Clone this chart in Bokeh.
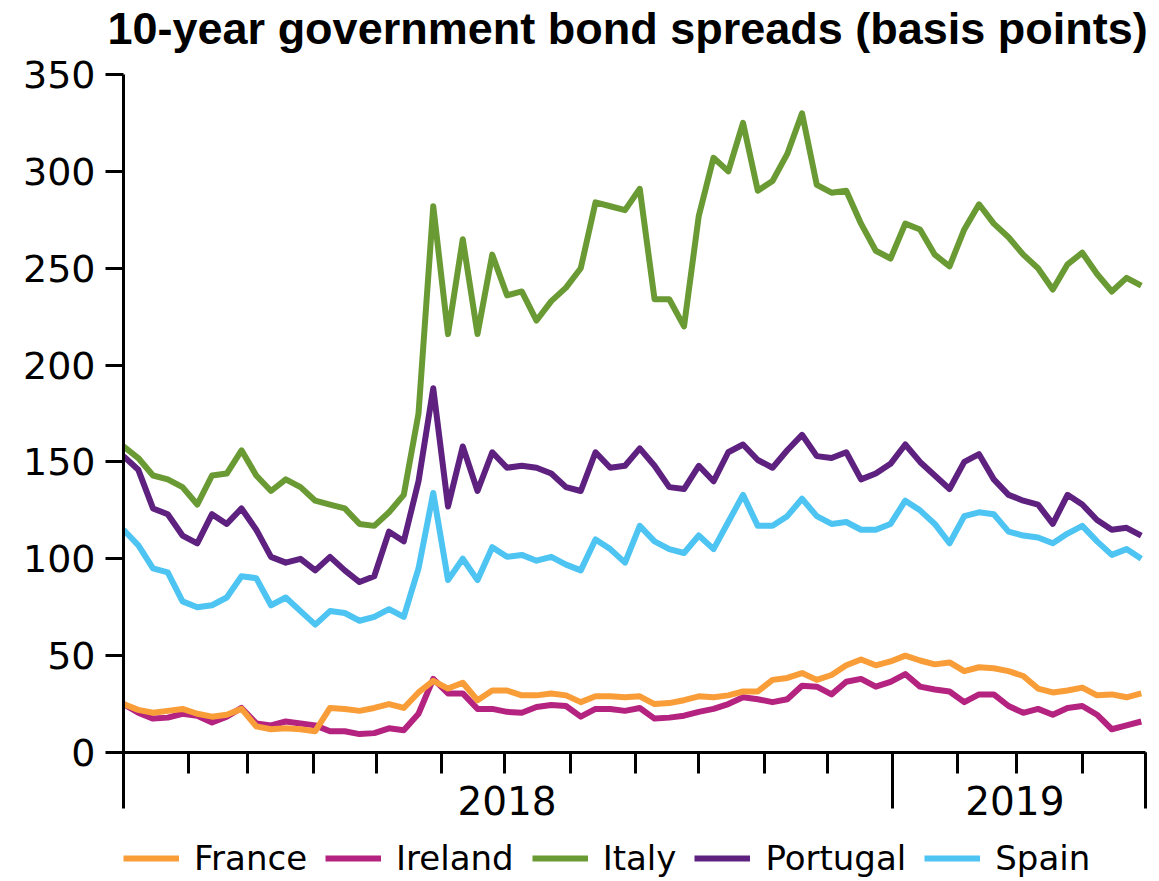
import datetime as dt
import pandas as pd
from bokeh.plotting import figure
from bokeh.layouts import column
from bokeh.models import (ColumnDataSource, FixedTicker, Range1d, Legend,
                          LegendItem, CustomJSTickFormatter, DatetimeAxis)
from bokeh.embed import file_html
from bokeh.resources import INLINE

# ---------------- data (weekly observations, basis points) ----------------
dates = pd.date_range("2018-01-01", periods=70, freq="7D")

france = [25, 22, 20.5, 21.5, 22.5, 20, 18.5, 19.5, 22.5, 13.5,
          12, 12.5, 12, 11, 23, 22.5, 21.5, 23, 25, 23,
          31, 37, 33, 36, 27, 32, 32, 29.5, 29.5, 30.5,
          29.5, 26, 29, 29, 28.5, 29, 25, 25.5, 27, 29,
          28.5, 29.5, 31.5, 31.5, 37.5, 38.5, 41, 37.5, 40, 45,
          48, 45, 47, 50, 47.5, 45.5, 46.5, 42, 44, 43.5,
          42, 39.5, 33, 31, 32, 33.5, 29.5, 30, 28.5, 30.5]

ireland = [25, 20.5, 17.5, 18, 20, 19, 15.5, 18.5, 23, 15,
           14, 16, 15, 14, 11, 11, 9.5, 10, 12.5, 11.5,
           20, 38, 30.5, 30.5, 22.5, 22.5, 21, 20.5, 23.5, 24.5,
           24, 18.5, 22.5, 22.5, 21.5, 23, 17.5, 18, 19, 21,
           22.5, 25, 28.5, 27.5, 26, 27.5, 34.5, 34, 30, 36.5,
           38, 34, 36.5, 40.5, 34, 32.5, 31.5, 26, 30, 30,
           24, 20.5, 22.5, 19.5, 23, 24, 19.5, 12, 14, 16]

italy = [158, 152, 143, 141, 137, 128, 143, 144, 156, 143,
         135, 141, 137, 130, 128, 126, 118, 117, 124, 133,
         175, 282, 216, 265, 216, 257, 236, 238, 223, 233,
         240, 250, 284, 282, 280, 291, 234, 234, 220, 277,
         307, 300, 325, 290, 295, 309, 330, 293, 289, 290,
         273, 259, 255, 273, 270, 257, 251, 270, 283, 273,
         266, 257, 250, 239, 252, 258, 247, 238, 245, 241]

portugal = [153, 146, 126, 123, 112, 108, 123, 118, 126, 115,
            101, 98, 100, 94, 101, 94, 88, 91, 114, 109,
            140, 188, 127, 158, 135, 155, 147, 148, 147, 144,
            137, 135, 155, 147, 148, 157, 148, 137, 136, 148,
            140, 155, 159, 151, 147, 156, 164, 153, 152, 155,
            141, 144, 149, 159, 150, 143, 136, 150, 154, 141,
            133, 130, 128, 118, 133, 128, 120, 115, 116, 112]

spain = [115, 107, 95, 93, 78, 75, 76, 80, 91, 90,
         76, 80, 73, 66, 73, 72, 68, 70, 74, 70,
         95, 134, 89, 100, 89, 106, 101, 102, 99, 101,
         97, 94, 110, 105, 98, 117, 109, 105, 103, 112,
         105, 119, 133, 117, 117, 122, 131, 122, 118, 119,
         115, 115, 118, 130, 125, 118, 108, 122, 124, 123,
         114, 112, 111, 108, 113, 117, 109, 102, 105, 100]

series_names = ["France", "Ireland", "Italy", "Portugal", "Spain"]
series_colors = ["#F99D38", "#B4237F", "#6A9A34", "#5E2180", "#4DC4F2"]
y_ticks = [0, 50, 100, 150, 200, 250, 300, 350]
year_labels = ["2018", "2019"]
title_text = "10-year government bond spreads (basis points)"

TICK_FONT = "DejaVu Sans"


def ms(d):
    return pd.Timestamp(d).value / 1e6


def strip(height):
    f = figure(width=1159, height=height, output_backend="svg", toolbar_location=None,
               min_border_left=123, min_border_right=14,
               min_border_top=0, min_border_bottom=0,
               x_axis_location=None, y_axis_location=None,
               x_range=Range1d(0, 1), y_range=Range1d(0, 1))
    f.outline_line_color = None
    f.xgrid.visible = False
    f.ygrid.visible = False
    f.background_fill_color = "white"
    f.border_fill_color = "white"
    return f


# ---------------- title strip ----------------
title_fig = strip(58)
title_fig.title.text = title_text
title_fig.title.align = "left"
title_fig.title.offset = -16
title_fig.title.standoff = 1
title_fig.title.vertical_align = "bottom"
title_fig.title.text_font = "Liberation Sans"
title_fig.title.text_font_style = "bold"
title_fig.title.text_font_size = "45px"
title_fig.title.text_color = "black"

# ---------------- main figure ----------------
source = ColumnDataSource(dict(date=dates, France=france, Ireland=ireland,
                               Italy=italy, Portugal=portugal, Spain=spain))

x_start = dt.datetime(2018, 1, 1)
x_end = dt.datetime(2019, 5, 1)

p = figure(width=1159, height=776, x_axis_type="datetime",
           output_backend="svg", toolbar_location=None,
           x_range=Range1d(x_start, x_end), y_range=Range1d(0, 350),
           min_border_left=123, min_border_right=14,
           min_border_top=16, min_border_bottom=82)
p.title.visible = False
p.outline_line_color = None
p.xgrid.visible = False
p.ygrid.visible = False
p.background_fill_color = "white"
p.border_fill_color = "white"

draw_order = ["Italy", "Portugal", "Spain", "Ireland", "France"]
for name in draw_order:
    col = series_colors[series_names.index(name)]
    p.line("date", name, source=source, line_color=col,
           line_width=6, line_join="round")

# x axis: long ticks at year boundaries / ends, short ticks each month
month_starts = [ms(d) for d in pd.date_range("2018-01-01", "2019-05-01", freq="MS")]
xa = p.xaxis[0]
xa.ticker = FixedTicker(ticks=[ms("2018-01-01"), ms("2019-01-01"), ms("2019-05-01")],
                        minor_ticks=month_starts)
xa.formatter = CustomJSTickFormatter(code="return ''")
xa.axis_line_width = 3
xa.axis_line_color = "black"
xa.major_tick_out = 56
xa.major_tick_in = 0
xa.major_tick_line_width = 3
xa.major_tick_line_color = "black"
xa.minor_tick_out = 21
xa.minor_tick_in = 0
xa.minor_tick_line_width = 3
xa.minor_tick_line_color = "black"
xa.major_label_text_font_size = "1px"
xa.major_label_standoff = 0

# second bottom axis carrying the year labels, centred within each year
year_pos = [ms(dt.datetime(2018, 7, 2)), ms(dt.datetime(2019, 2, 28))]
year_axis = DatetimeAxis(
    ticker=FixedTicker(ticks=year_pos, minor_ticks=[]),
    formatter=CustomJSTickFormatter(
        args=dict(labels=year_labels),
        code="return new Date(tick).getUTCFullYear() === 2018 ? labels[0] : labels[1]"),
    axis_line_color=None, major_tick_line_color=None,
    minor_tick_line_color=None, major_tick_out=0, major_tick_in=0,
    major_label_standoff=-23,
    major_label_text_font=TICK_FONT,
    major_label_text_font_size="39px",
    major_label_text_color="black")
p.add_layout(year_axis, "below")

ya = p.yaxis[0]
ya.ticker = FixedTicker(ticks=y_ticks)
ya.axis_line_width = 3
ya.axis_line_color = "black"
ya.major_tick_out = 18
ya.major_tick_in = 0
ya.major_tick_line_width = 3
ya.major_tick_line_color = "black"
ya.minor_tick_line_color = None
ya.major_label_text_font = TICK_FONT
ya.major_label_text_font_size = "38px"
ya.major_label_text_color = "black"
ya.major_label_standoff = 10

# ---------------- legend strip ----------------
leg_fig = strip(47)
items = []
for n, c in zip(series_names, series_colors):
    # one point outside the strip's range: nothing drawn, but the swatch keeps its colour
    r = leg_fig.line(x=[5], y=[5], line_color=c, line_width=6)
    items.append(LegendItem(label=n, renderers=[r]))

leg = Legend(items=items, location=(0, 3), orientation="horizontal",
             padding=0, margin=0, spacing=18,
             border_line_color=None, background_fill_alpha=0,
             glyph_width=56, glyph_height=36, label_height=36,
             label_standoff=15, label_text_font=TICK_FONT,
             label_text_font_size="34px", label_text_color="black")
leg_fig.add_layout(leg)

layout = column(title_fig, p, leg_fig, spacing=0)
open("out.html", "w").write(file_html(layout, INLINE))
